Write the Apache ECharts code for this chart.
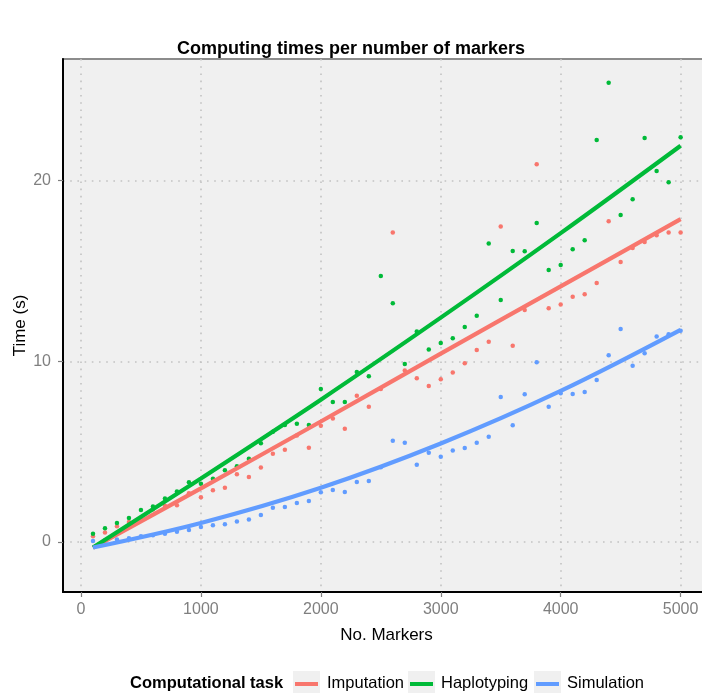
<!DOCTYPE html>
<html>
<head>
<meta charset="utf-8">
<script src="https://cdn.jsdelivr.net/npm/echarts@6/dist/echarts.min.js"></script>
<style>
  html, body { margin: 0; padding: 0; background: #ffffff; }
  #chart { width: 702px; height: 693px; }
</style>
</head>
<body>
<div id="chart"></div>
<script>
// Number of markers per run
const markers = [100,200,300,400,500,600,700,800,900,1000,1100,1200,1300,1400,1500,1600,1700,1800,1900,2000,
                 2100,2200,2300,2400,2500,2600,2700,2800,2900,3000,3100,3200,3300,3400,3500,3600,3700,3800,3900,4000,
                 4100,4200,4300,4400,4500,4600,4700,4800,4900,5000];

// Measured computing times (s)
const imputation = [0.31,0.53,0.87,1.11,1.26,1.80,2.00,2.03,2.70,2.47,2.86,3.00,3.75,3.60,4.12,4.89,5.11,5.89,5.22,6.44,
                    6.83,6.27,8.10,7.49,8.47,17.13,9.49,9.06,8.64,9.01,9.38,9.89,10.63,11.09,17.46,10.87,12.85,20.91,12.94,13.15,
                    13.58,13.72,14.34,17.76,15.50,16.28,16.61,16.98,17.13,17.13];
const haplotyping = [0.46,0.76,1.05,1.33,1.77,1.96,2.40,2.79,3.30,3.23,3.50,3.97,4.19,4.61,5.46,6.10,6.48,6.55,6.48,8.47,
                     7.75,7.75,9.41,9.17,14.73,13.22,9.86,11.65,10.65,11.02,11.28,11.90,12.53,16.53,13.40,16.11,16.09,17.66,15.06,15.34,
                     16.20,16.70,22.26,25.43,18.10,18.98,22.37,20.54,19.92,22.41];
const simulation = [0.05,0.09,0.13,0.20,0.31,0.37,0.45,0.57,0.66,0.83,0.92,0.98,1.13,1.24,1.50,1.90,1.94,2.16,2.27,2.75,
                    2.88,2.77,3.32,3.38,4.13,5.61,5.50,4.28,4.94,4.72,5.06,5.20,5.50,5.83,8.03,6.46,8.18,9.95,7.49,8.23,
                    8.19,8.30,8.97,10.34,11.79,9.75,10.45,11.37,11.50,11.70];

// Fitted trend per task, sampled at a few marker counts
const fitMarkers = [100,1000,2000,3000,4000,5000];
const fitImputation = [-0.31,2.97,6.67,10.43,14.15,17.87];
const fitHaplotyping = [-0.31,3.52,7.88,12.42,17.10,21.94];
const fitSimulation = [-0.31,1.05,3.00,5.45,8.36,11.74];

const xTicks = [0,1000,2000,3000,4000,5000];
const yTicks = [0,10,20];

const taskNames = ['Imputation','Haplotyping','Simulation'];
const taskColors = ['#F8766D','#00BA38','#619CFF'];

const FONT = 'Liberation Sans, Arial, sans-serif';

const pairs = (xs, ys) => xs.map((x, i) => [x, ys[i]]);

const pointSeries = [imputation, haplotyping, simulation].map((vals, i) => ({
  name: taskNames[i],
  type: 'scatter',
  data: pairs(markers, vals),
  symbol: 'circle',
  symbolSize: 4.5,
  itemStyle: { color: taskColors[i], opacity: 1 },
  silent: true,
  z: 2
}));

const fitSeries = [fitImputation, fitHaplotyping, fitSimulation].map((vals, i) => ({
  name: taskNames[i] + ' fit',
  type: 'line',
  data: pairs(fitMarkers, vals),
  smooth: 0.35,
  showSymbol: false,
  lineStyle: { color: taskColors[i], width: 4.2 },
  silent: true,
  z: 3
}));

// Legend: grey key boxes with a coloured stroke, then labels
const legendY = 684;
const keyBoxes = [293, 408, 534];
const keyLabels = [327, 441, 567];
const legendGraphics = [
  { type: 'text', left: 130, top: legendY - 9,
    style: { text: 'Computational task', font: 'bold 16.5px ' + FONT, fill: '#000' } }
];
taskNames.forEach((name, i) => {
  legendGraphics.push({ type: 'rect', shape: { x: keyBoxes[i], y: legendY - 13, width: 27, height: 27 },
    style: { fill: '#F0F0F0' } });
  legendGraphics.push({ type: 'line', shape: { x1: keyBoxes[i] + 2, y1: legendY, x2: keyBoxes[i] + 25, y2: legendY },
    style: { stroke: taskColors[i], lineWidth: 4 } });
  legendGraphics.push({ type: 'text', left: keyLabels[i], top: legendY - 9,
    style: { text: name, font: '16.5px ' + FONT, fill: '#000' } });
});

const chart = echarts.init(document.getElementById('chart'), null, { renderer: 'canvas' });

const gridDots = { show: true, lineStyle: { color: '#c2c2c2', width: 1.6, type: [1.6, 5.6] } };

chart.setOption({
  backgroundColor: '#ffffff',
  animation: false,
  title: {
    text: 'Computing times per number of markers',
    left: 'center',
    top: 35,
    textStyle: { fontFamily: FONT, fontSize: 18, fontWeight: 'bold', color: '#000' }
  },
  grid: {
    left: 63, top: 59, right: -8, bottom: 101,
    outerBoundsMode: 'none',
    containLabel: false,
    show: true,
    backgroundColor: '#F0F0F0',
    borderColor: '#8c8c8c',
    borderWidth: 2
  },
  xAxis: {
    type: 'value',
    min: -150, max: 5245,
    name: 'No. Markers',
    nameLocation: 'middle',
    nameGap: 35,
    nameTextStyle: { fontFamily: FONT, fontSize: 17, color: '#000' },
    axisLine: { show: true, onZero: false, lineStyle: { color: '#000', width: 2 } },
    axisTick: { show: true, customValues: xTicks, length: 5, lineStyle: { color: '#7f7f7f', width: 1.2 } },
    axisLabel: { customValues: xTicks, margin: 10, fontFamily: FONT, fontSize: 16, color: '#7f7f7f',
                 formatter: v => String(v) },
    splitLine: gridDots
  },
  yAxis: {
    type: 'value',
    min: -2.77, max: 26.74,
    name: 'Time (s)',
    nameLocation: 'middle',
    nameGap: 34,
    nameMoveOverlap: false,
    nameRotate: 90,
    nameTextStyle: { fontFamily: FONT, fontSize: 17, color: '#000' },
    axisLine: { show: true, onZero: false, lineStyle: { color: '#000', width: 2 } },
    axisTick: { show: true, customValues: yTicks, length: 5, lineStyle: { color: '#7f7f7f', width: 1.2 } },
    axisLabel: { customValues: yTicks, margin: 12, fontFamily: FONT, fontSize: 16, color: '#7f7f7f',
                 formatter: v => String(v) },
    splitLine: gridDots
  },
  legend: { show: false },
  graphic: legendGraphics,
  series: [...pointSeries, ...fitSeries]
});
</script>
</body>
</html>
